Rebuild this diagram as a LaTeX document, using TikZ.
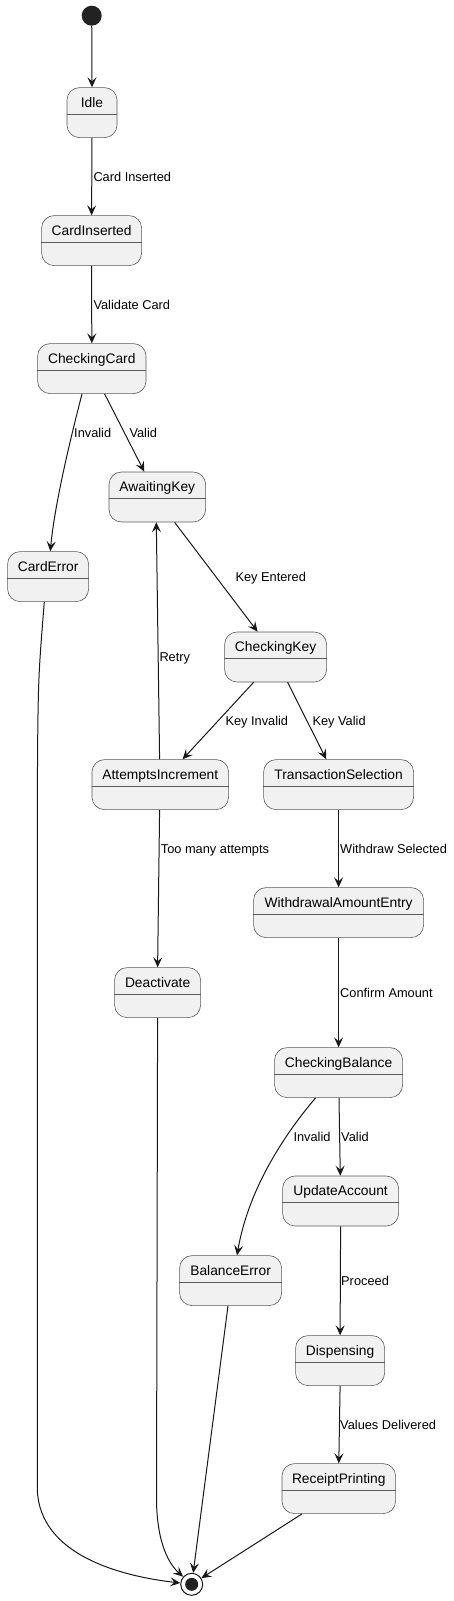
\documentclass[tikz,border=0pt]{standalone}
\usepackage{fontspec}
\setmainfont{Liberation Sans}
\usetikzlibrary{arrows.meta}
\definecolor{sfill}{HTML}{F1F1F1}
\definecolor{sline}{HTML}{181818}
\definecolor{bline}{HTML}{5A5A5A}
\definecolor{dotc}{HTML}{222222}
\tikzset{
 statebox/.style={draw=bline, line width=0.6pt, fill=sfill, rounded corners=12.5pt, inner sep=0pt, minimum height=50pt},
 divider/.style={draw=bline, line width=0.6pt},
 edge/.style={draw=sline, line width=1pt, -{Stealth[length=10pt,width=9pt,inset=4pt]}},
 lab/.style={font=\fontsize{12.8}{14}\selectfont, anchor=base west, inner sep=0pt, text=black},
 stitle/.style={font=\fontsize{13.8}{15}\selectfont, anchor=base, inner sep=0pt, text=black},
}
\newcommand\mkstate[5]{%
 \node[statebox, minimum width={#4-#2}, anchor=north west] (#1) at (#2,#3) {};
 \draw[divider] ([yshift=-27pt]#1.north west) -- ([yshift=-27pt]#1.north east);
 \node[stitle] (#1-t) at ([yshift=-20pt]#1.north) {#5};
}
\begin{document}
\begin{tikzpicture}[x=1pt,y=-1pt]
\useasboundingbox (0,0) rectangle (454,1601);
% states
\node[circle, fill=dotc, minimum size=20pt, inner sep=0pt] (start) at (91.7,15.7) {};
\mkstate{idle}{66.7}{87.3}{116.7}{Idle}
\mkstate{cins}{41.3}{215.3}{141.3}{CardInserted}
\mkstate{cc}{37.3}{343.3}{145.7}{CheckingCard}
\mkstate{ak}{108.7}{471.7}{205.3}{AwaitingKey}
\mkstate{ce}{7.3}{551.3}{88.3}{CardError}
\mkstate{ck}{224.3}{631.7}{326.3}{CheckingKey}
\mkstate{ai}{91.7}{759.3}{228.3}{AttemptsIncrement}
\mkstate{ts}{263.3}{759.3}{413.3}{TransactionSelection}
\mkstate{wae}{253.3}{887.3}{423.3}{WithdrawalAmountEntry}
\mkstate{de}{114.3}{967.3}{200.3}{Deactivate}
\mkstate{cb}{274.3}{1047.3}{402.3}{CheckingBalance}
\mkstate{ua}{282.3}{1175.7}{398.3}{UpdateAccount}
\mkstate{be}{179.3}{1255.3}{281.3}{BalanceError}
\mkstate{di}{295.3}{1335.3}{384.3}{Dispensing}
\mkstate{rp}{281.7}{1463.3}{395.3}{ReceiptPrinting}
\node[circle, draw=sline, line width=1pt, fill=white, minimum size=22pt, inner sep=0pt] (end) at (191.7,1584.3) {};
\fill[dotc] (end.center) circle (6.5pt);
% edges
\draw[edge] (start) -- (idle.north);
\draw[edge] (idle.south) -- (cins.north);
\draw[edge] (cins.south) -- (cc.north);
\draw[edge] ([xshift=-9.8pt]cc.south) .. controls (74,425) and (55,500) .. ([xshift=2.2pt]ce.north);
\draw[edge] ([xshift=12.8pt]cc.south) -- ([xshift=-13pt]ak.north);
\draw[edge] ([xshift=17.3pt]ak.south) -- ([xshift=-18pt]ck.north);
\draw[edge] ([xshift=-22pt]ck.south) -- ([xshift=22.3pt]ai.north);
\draw[edge] ([xshift=12pt]ck.south) -- ([xshift=-12.3pt]ts.north);
\draw[edge] ([xshift=-0.7pt]ai.north) -- ([xshift=-1pt]ak.south);
\draw[edge] ([xshift=-0.7pt]ai.south) -- (de.north);
\draw[edge] (ts.south) -- (wae.north);
\draw[edge] (wae.south) -- (cb.north);
\draw[edge] ([xshift=-23pt]cb.south) .. controls (295,1122) and (250,1180) .. ([xshift=6.4pt]be.north);
\draw[edge] ([xshift=0.4pt]cb.south) -- ([xshift=-0.3pt]ua.north);
\draw[edge] (ua.south) -- (di.north);
\draw[edge] (di.south) -- (rp.north);
\draw[edge] ([xshift=-3.8pt]ce.south) .. controls (38,680) .. (37.3,800) -- (37.3,1490) .. controls (40,1555) and (120,1576) .. (end);
\draw[edge] (de.south) -- (156.5,1500) .. controls (157,1545) and (170,1565) .. (end);
\draw[edge] ([xshift=-2.6pt]be.south) -- (end);
\draw[edge] ([xshift=-36.8pt]rp.south) -- (end);
% labels
\node[lab] (l1) at (93.3,181.5) {Card Inserted};
\node[lab] (l2) at (93.3,309) {Validate Card};
\node[lab] (l3) at (74,437.5) {Invalid};
\node[lab] (l4) at (129.3,437.5) {Valid};
\node[lab] (l5) at (235.3,581.5) {Key Entered};
\node[lab] (l6) at (159.3,661.5) {Retry};
\node[lab] (l7) at (225.3,725.5) {Key Invalid};
\node[lab] (l8) at (312.3,725.5) {Key Valid};
\node[lab] (l9) at (160.7,853.8) {Too many attempts};
\node[lab] (l10) at (340,853.8) {Withdraw Selected};
\node[lab] (l11) at (340,997.5) {Confirm Amount};
\node[lab] (l12) at (293.3,1141.5) {Invalid};
\node[lab] (l13) at (341,1141.5) {Valid};
\node[lab] (l14) at (341,1285.5) {Proceed};
\node[lab] (l15) at (340,1429) {Values Delivered};
\end{tikzpicture}
\end{document}
